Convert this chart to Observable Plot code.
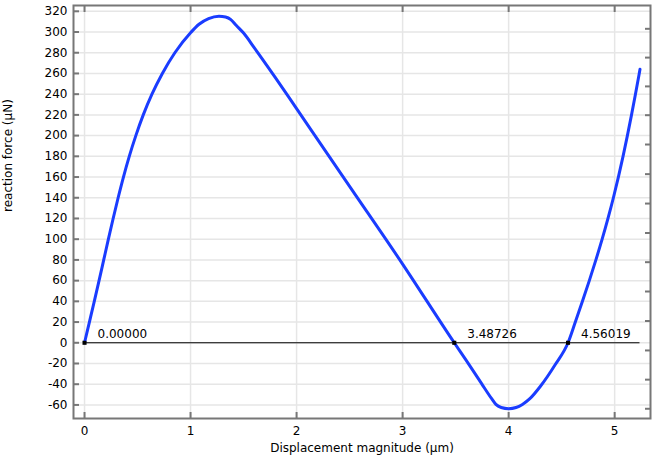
<!DOCTYPE html>
<html>
<head>
<meta charset="utf-8">
<script src="https://cdn.jsdelivr.net/npm/d3@7"></script>
<script src="https://cdn.jsdelivr.net/npm/@observablehq/plot@0.6"></script>
<style>
  html, body { margin: 0; padding: 0; background: #fff; }
  #chart { width: 654px; height: 457px; }
</style>
</head>
<body>
<div id="chart"></div>
<script>
// Displacement magnitude (µm)
const dispX = [0, 0.046, 0.092, 0.137, 0.181, 0.225, 0.270, 0.317, 0.367, 0.422, 0.484, 0.554, 0.636, 0.734, 0.852, 1.002, 1.08, 1.17, 1.268, 1.33, 1.38, 1.43, 1.5, 1.6, 1.8, 2.0, 2.5, 3.0, 3.48726, 3.6, 3.745, 3.84, 3.88, 3.93, 4.0, 4.07, 4.13, 4.2, 4.3, 4.44, 4.56019, 4.629, 4.696, 4.761, 4.823, 4.882, 4.937, 4.988, 5.035, 5.079, 5.120, 5.159, 5.196, 5.232, 5.239];
// reaction force (µN)
const forceY = [0, 20, 40, 60, 80, 100, 120, 140, 160, 180, 200, 220, 240, 260, 280, 299.5, 307.5, 313, 315.3, 314.5, 312, 306.5, 299, 285, 256, 226, 151, 76, 0, -17, -39.5, -54, -59.5, -62.5, -63.7, -62.5, -59.5, -54, -42, -21, 0, 20, 40, 60, 80, 100, 120, 140, 160, 180, 200, 220, 240, 260, 264];
// zero crossings
const roots = [0, 3.48726, 4.56019];
const xTicks = [0, 1, 2, 3, 4, 5];
const yTicks = [-60, -40, -20, 0, 20, 40, 60, 80, 100, 120, 140, 160, 180, 200, 220, 240, 260, 280, 300, 320];
const rightTicks = [303.1, 275.3, 247.5, 219.7, 191.4, 162.8, 134.4, 106.0, 77.8, 49.5, 21.0, -7.4, -35.6, -63.7];
const xDomain = [-0.104, 5.338];
const yDomain = [-73.1, 325.6];
const xTitle = "Displacement magnitude (µm)";
const yTitle = "reaction force (µN)";

const curve = dispX.map((x, i) => ({x, y: forceY[i]}));
const rootPts = roots.map(x => ({x, y: 0}));

const axisColor = "#777";
const gridColor = "#e6e6e6";

const chart = Plot.plot({
  width: 654,
  height: 457,
  marginLeft: 73,
  marginRight: 4,
  marginTop: 5,
  marginBottom: 39,
  style: {fontFamily: "'DejaVu Sans', sans-serif", fontSize: "12px", background: "#fff", color: "#000"},
  x: {domain: xDomain, label: null},
  y: {domain: yDomain, label: null},
  marks: [
    Plot.gridX(xTicks, {stroke: gridColor, strokeOpacity: 1, strokeWidth: 1.5}),
    Plot.gridY(yTicks, {stroke: gridColor, strokeOpacity: 1, strokeWidth: 1.5}),
    Plot.ruleY([0], {x1: dispX[0], x2: dispX[dispX.length - 1], stroke: "#000", strokeWidth: 1}),
    Plot.line(curve, {x: "x", y: "y", stroke: "#1a3cff", strokeWidth: 3, curve: "monotone-x"}),
    Plot.dot(rootPts, {x: "x", y: "y", symbol: "square", r: 2.3, fill: "#000", stroke: null}),
    Plot.text(rootPts, {x: "x", y: "y", text: d => d.x.toFixed(5), textAnchor: "start", dx: 13, dy: -9, fill: "#000", fontSize: 12}),
    Plot.frame({stroke: axisColor, strokeWidth: 2}),
    // tick labels
    Plot.axisX({ticks: xTicks, anchor: "bottom", tickSize: 0, tickPadding: 8, tickFormat: d => String(d), label: null, fill: "#000"}),
    Plot.axisY({ticks: yTicks, anchor: "left", tickSize: 0, tickPadding: 6, tickFormat: d => String(d), label: null, fill: "#000"}),
    // inward tick marks
    Plot.axisX({ticks: xTicks, anchor: "bottom", tickSize: -6, tickFormat: () => "", label: null, stroke: axisColor, strokeWidth: 2}),
    Plot.axisX({ticks: xTicks, anchor: "top", tickSize: -6, tickFormat: () => "", label: null, stroke: axisColor, strokeWidth: 2}),
    Plot.axisY({ticks: yTicks, anchor: "left", tickSize: -6, tickFormat: () => "", label: null, stroke: axisColor, strokeWidth: 2}),
    Plot.axisY({ticks: rightTicks, anchor: "right", tickSize: -6, tickFormat: () => "", label: null, stroke: axisColor, strokeWidth: 2}),
    // axis titles
    Plot.text([xTitle], {frameAnchor: "bottom", dy: 33, text: d => d, fill: "#000", fontSize: 12}),
    Plot.text([yTitle], {frameAnchor: "left", dx: -65, rotate: -90, text: d => d, fill: "#000", fontSize: 12})
  ]
});
document.getElementById("chart").appendChild(chart);
</script>
</body>
</html>
